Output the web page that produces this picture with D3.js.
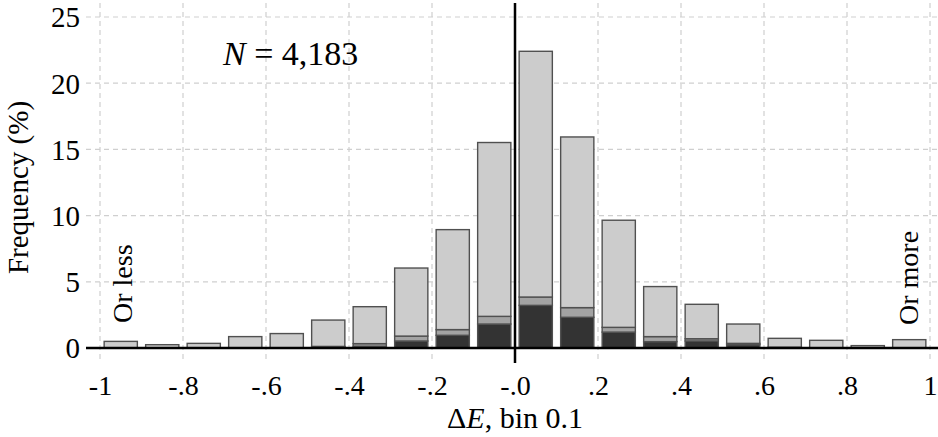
<!DOCTYPE html>
<html>
<head>
<meta charset="utf-8">
<script src="https://cdn.jsdelivr.net/npm/d3@7"></script>
<style>
  html, body { margin: 0; padding: 0; background: #fff; }
  svg { display: block; font-family: "Liberation Serif", "Times New Roman", serif; }
</style>
</head>
<body>
<svg id="chart" width="938" height="437"></svg>
<script>
// Histogram of ΔE in bins of 0.1 (first and last bins are open-ended)
const binStarts = [-1.0, -0.9, -0.8, -0.7, -0.6, -0.5, -0.4, -0.3, -0.2, -0.1,
                    0.0,  0.1,  0.2,  0.3,  0.4,  0.5,  0.6,  0.7,  0.8,  0.9];
const binWidth = 0.1;

// Frequency (%) per bin, stacked bottom to top
const darkPart   = [0, 0, 0, 0, 0, 0.08, 0.13, 0.53, 0.96, 1.81, 3.22, 2.32, 1.20, 0.48, 0.53, 0.25, 0.04, 0, 0, 0];
const mediumPart = [0, 0, 0, 0, 0, 0.04, 0.20, 0.37, 0.43, 0.58, 0.63, 0.73, 0.36, 0.38, 0.17, 0.10, 0.02, 0.02, 0, 0];
const totals     = [0.50, 0.25, 0.35, 0.86, 1.09, 2.11, 3.12, 6.04, 8.94, 15.52,
                    22.41, 15.94, 9.65, 4.64, 3.30, 1.81, 0.73, 0.58, 0.18, 0.63];

const xTicks = [-1, -0.8, -0.6, -0.4, -0.2, 0, 0.2, 0.4, 0.6, 0.8, 1];
const xTickLabels = ["-1", "-.8", "-.6", "-.4", "-.2", "-.0", ".2", ".4", ".6", ".8", "1"];
const yTicks = [0, 5, 10, 15, 20, 25];
const yTickLabels = ["0", "5", "10", "15", "20", "25"];

const svg = d3.select("#chart");

const plotLeft = 86, plotRight = 938;
const x = d3.scaleLinear().domain([-1, 1]).range([100, 930]);
const y = d3.scaleLinear().domain([0, 25]).range([348, 17]);
const yTop = y(26.05);

const grid = svg.append("g").attr("class", "grid")
  .attr("stroke", "#cfcfcf").attr("stroke-width", 1.2).attr("stroke-dasharray", "5,4");

// horizontal grid lines
grid.selectAll("line.h").data(yTicks.filter(d => d > 0)).join("line")
  .attr("class", "h")
  .attr("x1", plotLeft).attr("x2", plotRight)
  .attr("y1", d => y(d)).attr("y2", d => y(d));

// vertical grid lines, running a little below the baseline as ticks
grid.selectAll("line.v").data(xTicks.filter(d => d !== 0)).join("line")
  .attr("class", "v")
  .attr("x1", d => x(d)).attr("x2", d => x(d))
  .attr("y1", yTop).attr("y2", y(0) + 15);

// stacked bars
const series = [
  { name: "dark",   values: darkPart,   fill: "#333333" },
  { name: "medium", values: mediumPart, fill: "#a3a3a3" },
  { name: "light",  values: totals.map((t, i) => t - darkPart[i] - mediumPart[i]), fill: "#cccccc" }
];

const rows = binStarts.map((b, i) => {
  const r = { start: b };
  series.forEach(s => r[s.name] = s.values[i]);
  return r;
});
const stacked = d3.stack().keys(series.map(s => s.name))(rows);

const barFrac = 0.8;
const barW = (x(binWidth) - x(0)) * barFrac;
const barOffset = (x(binWidth) - x(0)) * (1 - barFrac) / 2;

const bars = svg.append("g").attr("class", "bars");
stacked.forEach((layer, li) => {
  bars.append("g")
    .attr("fill", series[li].fill)
    .attr("stroke", "#505050")
    .attr("stroke-width", 1.4)
    .selectAll("rect")
    .data(layer.filter(d => d[1] - d[0] > 0))
    .join("rect")
    .attr("x", d => x(d.data.start) + barOffset)
    .attr("width", barW)
    .attr("y", d => y(d[1]))
    .attr("height", d => y(d[0]) - y(d[1]));
});

// baseline and zero line
svg.append("line")
  .attr("x1", plotLeft).attr("x2", plotRight)
  .attr("y1", y(0)).attr("y2", y(0))
  .attr("stroke", "#000").attr("stroke-width", 2.5);
svg.append("line")
  .attr("x1", x(0)).attr("x2", x(0))
  .attr("y1", yTop).attr("y2", y(0) + 15)
  .attr("stroke", "#000").attr("stroke-width", 2.5);

// axes (labels only)
const xAxis = d3.axisBottom(x).tickValues(xTicks)
  .tickFormat((d, i) => xTickLabels[i]).tickSize(0).tickPadding(0);
svg.append("g")
  .attr("transform", `translate(0,${y(0)})`)
  .call(xAxis)
  .call(g => g.select(".domain").remove())
  .call(g => g.selectAll("text")
    .attr("font-family", "Liberation Serif, serif")
    .attr("font-size", 28).attr("fill", "#000")
    .attr("dy", null).attr("y", 47));

const yAxis = d3.axisLeft(y).tickValues(yTicks)
  .tickFormat((d, i) => yTickLabels[i]).tickSize(0).tickPadding(6);
svg.append("g")
  .attr("transform", `translate(${plotLeft},0)`)
  .call(yAxis)
  .call(g => g.select(".domain").remove())
  .call(g => g.selectAll("text")
    .attr("font-family", "Liberation Serif, serif")
    .attr("font-size", 29).attr("fill", "#000")
    .attr("dy", "0.34em"));

// axis titles
svg.append("text")
  .attr("transform", `translate(28,${(y(0) + y(25)) / 2 + 5}) rotate(-90)`)
  .attr("text-anchor", "middle")
  .attr("font-size", 29)
  .text("Frequency (%)");

const xTitle = svg.append("text")
  .attr("x", x(0)).attr("y", 428)
  .attr("text-anchor", "middle")
  .attr("font-size", 30);
xTitle.append("tspan").text("Δ");
xTitle.append("tspan").attr("font-style", "italic").text("E");
xTitle.append("tspan").text(", bin 0.1");

// sample size
const nText = svg.append("text")
  .attr("x", 223).attr("y", 65)
  .attr("font-size", 34);
nText.append("tspan").attr("font-style", "italic").text("N");
nText.append("tspan").text(" = 4,183");

// open-ended bin notes
svg.append("text")
  .attr("transform", `translate(${x(-1) + 32},${y(0) - 25}) rotate(-90)`)
  .attr("font-size", 28)
  .text("Or less");
svg.append("text")
  .attr("transform", `translate(${x(1) - 12},${y(0) - 23}) rotate(-90)`)
  .attr("font-size", 28)
  .text("Or more");
</script>
</body>
</html>
